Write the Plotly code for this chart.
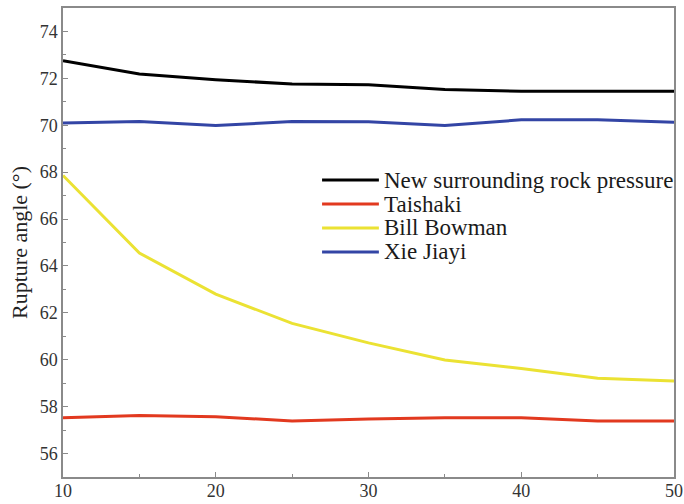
import plotly.graph_objects as go

# Burial depth / parameter values along the x axis
x_vals = [10, 15, 20, 25, 30, 35, 40, 45, 50]

# Rupture angle (degrees) for each theory
new_pressure = [72.75, 72.19, 71.94, 71.76, 71.73, 71.52, 71.45, 71.45, 71.45]
taishaki = [57.53, 57.62, 57.57, 57.39, 57.47, 57.53, 57.53, 57.39, 57.39]
bill_bowman = [67.86, 64.55, 62.80, 61.55, 60.72, 59.99, 59.63, 59.21, 59.09]
xie_jiayi = [70.10, 70.16, 69.99, 70.16, 70.15, 69.99, 70.23, 70.23, 70.13]

series_names = ["New surrounding rock pressure", "Taishaki", "Bill Bowman", "Xie Jiayi"]
series_values = [new_pressure, taishaki, bill_bowman, xie_jiayi]
series_colors = ["#000000", "#e2391f", "#ebe233", "#3345a5"]

SERIF = "Liberation Serif"

fig = go.Figure()
for name, vals, col in zip(series_names, series_values, series_colors):
    fig.add_trace(go.Scatter(
        x=x_vals, y=vals, mode="lines", name=name,
        line=dict(color=col, width=3), showlegend=False,
    ))

# Compact key in the upper middle of the plot: sample line + label per series
key_x0, key_x1, key_text_x = 0.424, 0.517, 0.522
key_rows = [0.633, 0.582, 0.531, 0.480]
for name, col, ky in zip(series_names, series_colors, key_rows):
    fig.add_shape(type="line", xref="paper", yref="paper",
                  x0=key_x0, x1=key_x1, y0=ky, y1=ky,
                  line=dict(color=col, width=3))
    fig.add_annotation(xref="paper", yref="paper", x=key_text_x, y=ky,
                       xanchor="left", yanchor="middle", showarrow=False,
                       text=name,
                       font=dict(family=SERIF, size=23, color="#1a1a1a"))

axis_common = dict(
    showgrid=False, zeroline=False, automargin=False,
    showline=True, linecolor="#8a8a8a", linewidth=1.5, mirror=True,
    ticks="inside", ticklen=5, tickwidth=1.2, tickcolor="#8a8a8a",
    tickfont=dict(family=SERIF, size=18, color="#333333"),
    ticklabeloverflow="allow",
)

fig.update_xaxes(
    range=[10, 50], dtick=10, tick0=10,
    minor=dict(dtick=5, ticks="inside", ticklen=3, tickcolor="#8a8a8a"),
    ticklabelstandoff=-3,
    **axis_common,
)
fig.update_yaxes(
    range=[55, 75], dtick=2, tick0=56,
    minor=dict(dtick=1, ticks="inside", ticklen=3, tickcolor="#8a8a8a"),
    title=dict(text="Rupture angle (°)", standoff=6,
               font=dict(family=SERIF, size=22, color="#222222")),
    **axis_common,
)

fig.update_layout(
    width=684, height=504,
    margin=dict(l=63, r=10, t=8, b=27),
    paper_bgcolor="white", plot_bgcolor="white",
    font=dict(family=SERIF, size=18, color="#333333"),
    showlegend=False,
)

fig.write_html("out.html")
